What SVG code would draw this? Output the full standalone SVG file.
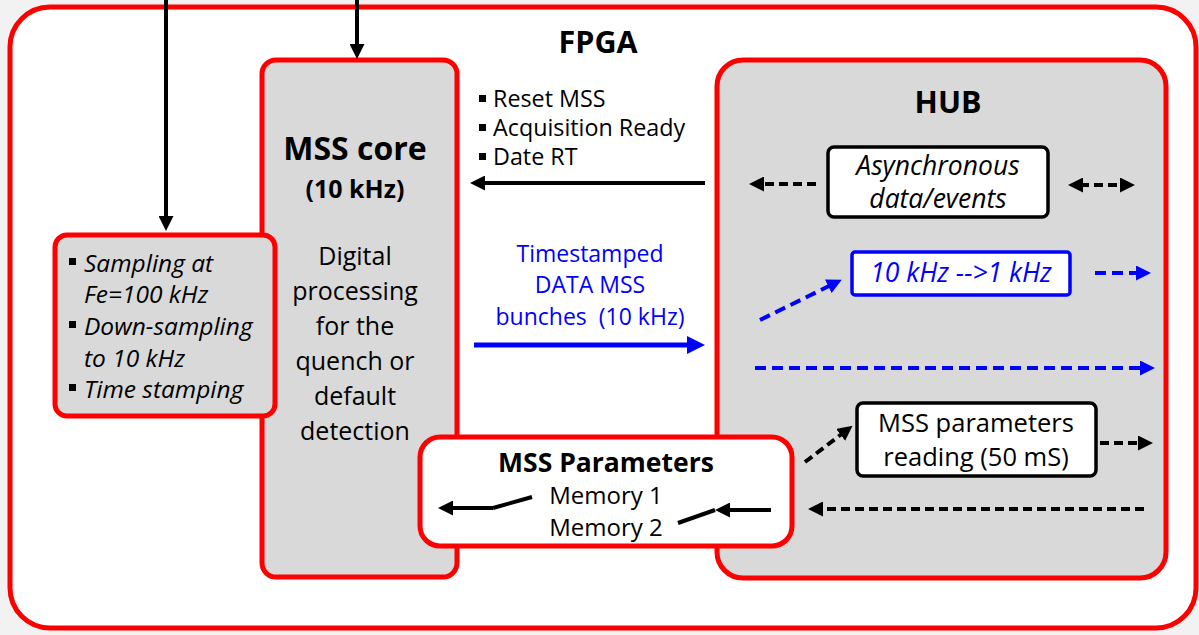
<svg xmlns="http://www.w3.org/2000/svg" width="1199" height="635" viewBox="0 0 1199 635">
  <style>
    text { font-family: "Open Sans", "Liberation Sans", Arial, sans-serif; fill: #000; }
    .box { fill: #d9d9d9; stroke: #ff0000; stroke-width: 5; }
    .wbox { fill: #ffffff; stroke: #ff0000; stroke-width: 5; }
    .kbox { fill: #ffffff; stroke: #000; stroke-width: 3.5; }
    .bbox { fill: #ffffff; stroke: #0000ff; stroke-width: 3.5; }
    .title { font-weight: bold; }
    .it { font-style: italic; }
    .blue { fill: #0000ff; }
    .pre { white-space: pre; }
    .ln { fill: none; stroke: #000; stroke-width: 4; }
    .lnb { fill: none; stroke: #0000ff; stroke-width: 5; }
    .dk { fill: none; stroke: #000; stroke-width: 4; stroke-dasharray: 9 5; }
    .db { fill: none; stroke: #0000ff; stroke-width: 4; stroke-dasharray: 11 6; }
  </style>
  <defs>
    <marker id="hk" markerUnits="userSpaceOnUse" viewBox="0 0 15 15" markerWidth="15" markerHeight="15" refX="3" refY="7.5" orient="auto-start-reverse">
      <path d="M0,0 L15,7.5 L0,15 z" fill="#000"/>
    </marker>
    <marker id="hb" markerUnits="userSpaceOnUse" viewBox="0 0 15 15" markerWidth="15" markerHeight="15" refX="3" refY="7.5" orient="auto-start-reverse">
      <path d="M0,0 L15,7.5 L0,15 z" fill="#0000ff"/>
    </marker>
    <marker id="hbL" markerUnits="userSpaceOnUse" viewBox="0 0 18 18" markerWidth="18" markerHeight="18" refX="4" refY="9" orient="auto">
      <path d="M0,0 L18,9 L0,18 z" fill="#0000ff"/>
    </marker>
  </defs>

  <!-- page background -->
  <rect x="0" y="0" width="1199" height="635" fill="#f2f2f2"/>

  <!-- FPGA frame -->
  <g id="fpga">
    <rect x="10" y="7" width="1186" height="621" rx="40" ry="40" fill="#ffffff" stroke="#ff0000" stroke-width="5"/>
    <text x="598" y="53" font-size="30.5" class="title" text-anchor="middle">FPGA</text>
  </g>

  <!-- MSS core -->
  <g id="mss-core">
    <rect class="box" x="262" y="60" width="195" height="517" rx="14"/>
    <text x="355" y="160" font-size="32" class="title" text-anchor="middle">MSS core</text>
    <text x="355" y="198" font-size="25" class="title" text-anchor="middle">(10 kHz)</text>
    <g font-size="25" text-anchor="middle">
      <text x="355" y="265">Digital</text>
      <text x="355" y="300">processing</text>
      <text x="355" y="335">for the</text>
      <text x="355" y="370">quench or</text>
      <text x="355" y="405">default</text>
      <text x="355" y="440">detection</text>
    </g>
  </g>

  <!-- acquisition front end -->
  <g id="sampling">
    <rect class="box" x="55" y="235" width="220" height="181" rx="12"/>
    <g font-size="24.5" class="it">
      <rect x="69" y="258" width="7" height="7"/>
      <text x="84" y="272">Sampling at</text>
      <text x="84" y="303">Fe=100 kHz</text>
      <rect x="69" y="321" width="7" height="7"/>
      <text x="84" y="335">Down-sampling</text>
      <text x="84" y="367">to 10 kHz</text>
      <rect x="69" y="384" width="7" height="7"/>
      <text x="84" y="398">Time stamping</text>
    </g>
  </g>

  <!-- HUB -->
  <g id="hub">
    <rect class="box" x="717" y="60" width="449" height="518" rx="26"/>
    <text x="948" y="113" font-size="30.5" class="title" text-anchor="middle">HUB</text>
  </g>

  <g id="async">
    <rect class="kbox" x="828" y="147" width="220" height="70" rx="6"/>
    <text x="938" y="175" font-size="26.5" class="it" text-anchor="middle">Asynchronous</text>
    <text x="938" y="208" font-size="26.5" class="it" text-anchor="middle">data/events</text>
  </g>

  <g id="decimation">
    <rect class="bbox" x="852" y="252" width="218" height="43" rx="3"/>
    <text x="961" y="282" font-size="26.5" class="it blue" text-anchor="middle">10 kHz --&gt;1 kHz</text>
  </g>

  <g id="param-reading">
    <rect class="kbox" x="857" y="403" width="239" height="73" rx="6"/>
    <text x="976" y="432" font-size="25.5" text-anchor="middle">MSS parameters</text>
    <text x="976" y="466" font-size="25.5" text-anchor="middle">reading (50 mS)</text>
  </g>

  <g id="mss-parameters">
    <rect class="wbox" x="420" y="437" width="372" height="109" rx="20"/>
    <text x="606" y="472" font-size="26.5" class="title" text-anchor="middle">MSS Parameters</text>
    <text x="606" y="504" font-size="24" text-anchor="middle">Memory 1</text>
    <text x="606" y="536" font-size="24" text-anchor="middle">Memory 2</text>
  </g>

  <!-- labels on the core/HUB links -->
  <g id="ctrl-labels" font-size="23.3">
    <rect x="479" y="95" width="7" height="7"/>
    <text x="493" y="107">Reset MSS</text>
    <rect x="479" y="124" width="7" height="7"/>
    <text x="493" y="136">Acquisition Ready</text>
    <rect x="479" y="153" width="7" height="7"/>
    <text x="493" y="165">Date RT</text>
  </g>
  <g id="data-label" font-size="23" text-anchor="middle">
    <text x="590" y="262" class="blue">Timestamped</text>
    <text x="590" y="293" class="blue">DATA MSS</text>
    <text x="590" y="325" class="blue pre">bunches  (10 kHz)</text>
  </g>

  <!-- connectors -->
  <g id="connectors">
    <path class="ln" d="M166,0 V219" marker-end="url(#hk)"/>
    <path class="ln" d="M357,0 V47" marker-end="url(#hk)"/>
    <path class="ln" d="M705,183 H482" marker-end="url(#hk)"/>
    <path class="lnb" d="M474,345 H691" marker-end="url(#hbL)"/>

    <path class="dk" d="M816,184 H761" marker-end="url(#hk)"/>
    <path class="dk" d="M1080,185 H1123" marker-start="url(#hk)" marker-end="url(#hk)"/>

    <path class="db" d="M760,320 L831,285" marker-end="url(#hb)"/>
    <path class="db" d="M1095,273 H1139" marker-end="url(#hb)"/>
    <path class="db" d="M755,368 H1143" marker-end="url(#hb)"/>

    <path class="dk" d="M805,462 L843,433" marker-end="url(#hk)"/>
    <path class="dk" d="M1100,443 H1141" marker-end="url(#hk)"/>
    <path class="dk" d="M1144,509 H820" marker-end="url(#hk)"/>

    <path class="ln" d="M493,508 H450" marker-end="url(#hk)"/>
    <path class="ln" d="M493,508 L532,497"/>
    <path class="ln" d="M771,510 H727" marker-end="url(#hk)"/>
    <path class="ln" d="M678,523 L715,510"/>
  </g>
</svg>
